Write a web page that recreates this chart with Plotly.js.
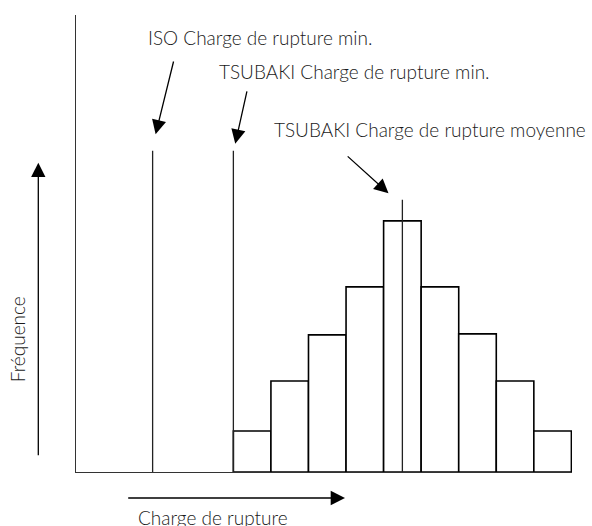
<!DOCTYPE html>
<html>
<head>
<meta charset="utf-8">
<script src="https://cdn.plot.ly/plotly-3.0.1.min.js"></script>
<style>html,body{margin:0;padding:0;background:#fff;}#chart{width:592px;height:526px;}</style>
</head>
<body>
<div id="chart"></div>
<script>
// Data (arbitrary units)
const binCenters = [1, 2, 3, 4, 5, 6, 7, 8, 9];
const frequencies = [4.1, 9.1, 13.7, 18.5, 25.1, 18.5, 13.8, 9.1, 4.1];
const isoMin = -1.65;
const isoMinHeight = 32.1;
const tsubakiMin = 0.5;
const tsubakiMinHeight = 32.1;
const tsubakiMean = 5.0;
const tsubakiMeanHeight = 27.2;
const labels = {
  iso: "ISO Charge de rupture min.",
  tsubakiMin: "TSUBAKI Charge de rupture min.",
  tsubakiMean: "TSUBAKI Charge de rupture moyenne",
  x: "Charge de rupture",
  y: "Fréquence"
};

// layout geometry
const W = 592, H = 526;
const L = 76, R = 572, T = 15, B = 471.7;
const px = x => (x - L) / (R - L);
const py = y => (B - y) / (B - T);
const FONT = {family: "Lato, 'Open Sans', sans-serif", size: 19, color: "#1a1a1a", weight: 300};
const lineCol = "#222";

const traces = [
  {
    type: "bar", x: binCenters, y: frequencies, width: 1,
    marker: {color: "#fff", line: {color: "#000", width: 1.6}},
    hoverinfo: "skip", showlegend: false
  },
  {type: "scatter", mode: "lines", x: [isoMin, isoMin], y: [0, isoMinHeight],
   line: {color: lineCol, width: 1.3}, showlegend: false, hoverinfo: "skip"},
  {type: "scatter", mode: "lines", x: [tsubakiMin, tsubakiMin], y: [0, tsubakiMinHeight],
   line: {color: lineCol, width: 1.3}, showlegend: false, hoverinfo: "skip"},
  {type: "scatter", mode: "lines", x: [tsubakiMean, tsubakiMean], y: [0, tsubakiMeanHeight],
   line: {color: lineCol, width: 1.3}, showlegend: false, hoverinfo: "skip"}
];

const arrowCommon = {showarrow: true, arrowhead: 2, arrowsize: 2.2, arrowwidth: 1.3, arrowcolor: "#000", text: "", standoff: 0};

const annotations = [
  // arrows pointing at the vertical lines
  Object.assign({xref: "x", yref: "y", x: isoMin + 0.08, y: isoMinHeight + 1.65, ax: 18.3, ay: -74.3}, arrowCommon),
  Object.assign({xref: "x", yref: "y", x: tsubakiMin + 0.05, y: tsubakiMinHeight + 0.7, ax: 12, ay: -54}, arrowCommon),
  Object.assign({xref: "x", yref: "y", x: tsubakiMean - 0.37, y: tsubakiMeanHeight + 0.65, ax: -42.3, ay: -38.3}, arrowCommon),
  // axis arrows
  Object.assign({xref: "paper", yref: "paper", x: px(38.3), y: py(162.7), ax: 0, ay: 294}, arrowCommon),
  Object.assign({xref: "paper", yref: "paper", x: px(345), y: py(497.7), ax: -218.3, ay: 0}, arrowCommon),
  // texts
  {xref: "paper", yref: "paper", x: px(146), y: py(37), xanchor: "left", yanchor: "middle", text: labels.iso, showarrow: false, font: FONT},
  {xref: "paper", yref: "paper", x: px(217), y: py(71), xanchor: "left", yanchor: "middle", text: labels.tsubakiMin, showarrow: false, font: FONT},
  {xref: "paper", yref: "paper", x: px(272), y: py(129), xanchor: "left", yanchor: "middle", text: labels.tsubakiMean, showarrow: false, font: FONT},
  {xref: "paper", yref: "paper", x: px(136), y: py(517), xanchor: "left", yanchor: "middle", text: labels.x, showarrow: false, font: FONT},
  {xref: "paper", yref: "paper", x: px(17), y: py(339), xanchor: "center", yanchor: "middle", text: labels.y, textangle: -90, showarrow: false, font: FONT}
];

const layout = {
  width: W, height: H,
  margin: {l: L, r: W - R, t: T, b: H - B, pad: 0},
  paper_bgcolor: "#fff", plot_bgcolor: "#fff",
  showlegend: false,
  bargap: 0,
  xaxis: {range: [-3.69, 9.516], showline: true, linecolor: "#333", linewidth: 1.3,
          showgrid: false, zeroline: false, showticklabels: false, ticks: "", fixedrange: true},
  yaxis: {range: [0, 45.67], showline: true, linecolor: "#333", linewidth: 1.3,
          showgrid: false, zeroline: false, showticklabels: false, ticks: "", fixedrange: true},
  annotations: annotations
};

Plotly.newPlot("chart", traces, layout, {displayModeBar: false, staticPlot: true});
</script>
</body>
</html>
